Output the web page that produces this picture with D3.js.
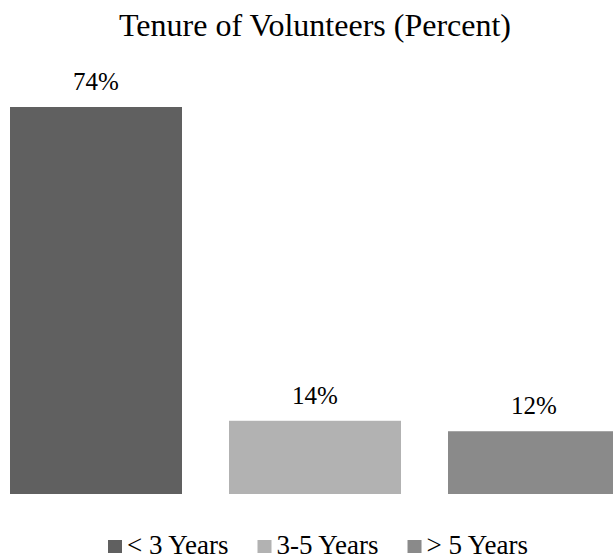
<!DOCTYPE html>
<html>
<head>
<meta charset="utf-8">
<script src="https://cdn.jsdelivr.net/npm/d3@7"></script>
<style>
  html, body { margin: 0; padding: 0; background: #fff; }
  svg { display: block; }
</style>
</head>
<body>
<svg id="chart" width="613" height="559"></svg>
<script>
// Tenure groups and their share of volunteers (percent)
const categories = ["< 3 Years", "3-5 Years", "> 5 Years"];
const values = [74, 14, 12];
const colors = ["#606060", "#b2b2b2", "#8a8a8a"];
const title = "Tenure of Volunteers (Percent)";

const FONT = '"Liberation Serif"';
const svg = d3.select("#chart");

const x = d3.scaleBand()
  .domain(categories)
  .range([-13.5, 643.5])
  .paddingInner(0.2146)
  .paddingOuter(0.1073);

const y = d3.scaleLinear()
  .domain([0, 74])
  .range([494, 107]);

const color = d3.scaleOrdinal().domain(categories).range(colors);

// Title
svg.append("text")
  .attr("x", 315)
  .attr("y", 36)
  .attr("text-anchor", "middle")
  .style("font-family", FONT)
  .style("font-size", "32px")
  .attr("fill", "#000")
  .text(title);

// Bars
svg.append("g").selectAll("rect")
  .data(categories)
  .join("rect")
  .attr("x", d => x(d))
  .attr("width", x.bandwidth())
  .attr("y", (d, i) => y(values[i]))
  .attr("height", (d, i) => y(0) - y(values[i]))
  .attr("fill", d => color(d));

// Value labels above each bar
svg.append("g").selectAll("text")
  .data(categories)
  .join("text")
  .attr("x", d => x(d) + x.bandwidth() / 2)
  .attr("y", (d, i) => y(values[i]) - 17)
  .attr("text-anchor", "middle")
  .style("font-family", FONT)
  .style("font-size", "25px")
  .attr("fill", "#000")
  .text((d, i) => values[i] + "%");

// Legend: swatch + label, laid out left to right
const legend = svg.append("g").attr("transform", "translate(108,0)");
let cursor = 0;
categories.forEach((key, i) => {
  const item = legend.append("g").attr("transform", `translate(${cursor},0)`);
  item.append("rect")
    .attr("x", 0)
    .attr("y", 540)
    .attr("width", 14)
    .attr("height", 13)
    .attr("fill", color(key));
  const label = item.append("text")
    .attr("x", 19)
    .attr("y", 554)
    .style("font-family", FONT)
    .style("font-size", "27px")
    .attr("fill", "#000")
    .text(key);
  cursor += 19 + label.node().getComputedTextLength() + 29;
});
</script>
</body>
</html>
